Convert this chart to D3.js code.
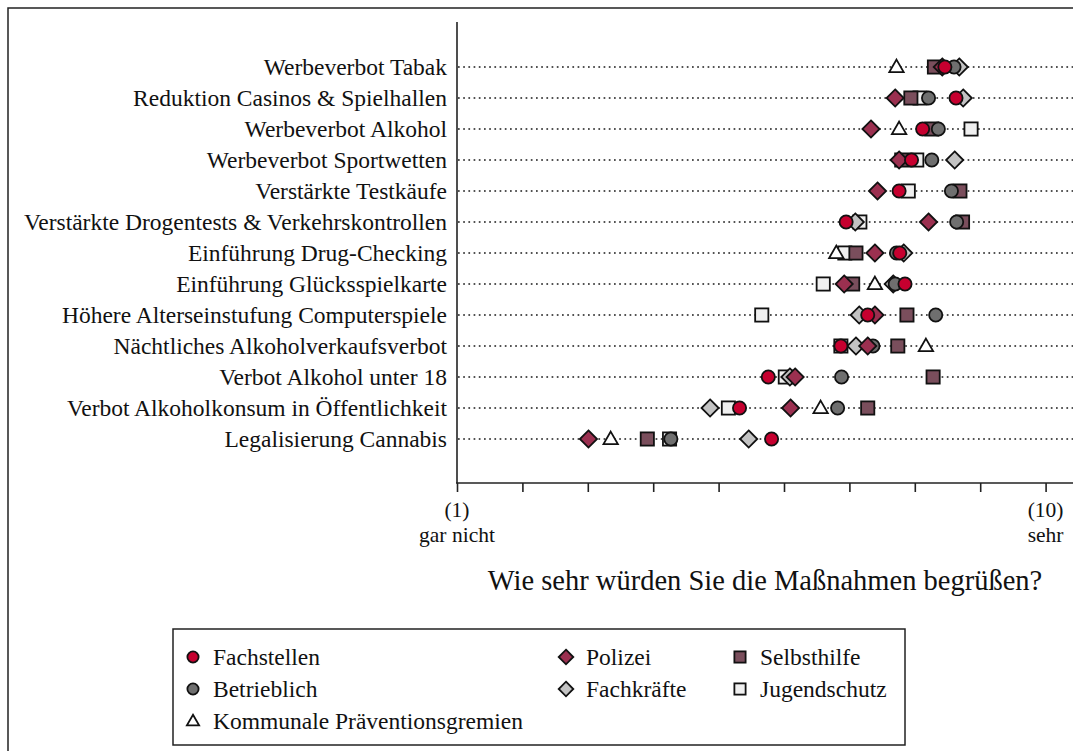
<!DOCTYPE html>
<html><head><meta charset="utf-8">
<script src="https://cdn.jsdelivr.net/npm/d3@7"></script>
<style>html,body{margin:0;padding:0;background:#fff;}svg{display:block;}</style>
</head><body>
<script>
const categories = [
  "Werbeverbot Tabak",
  "Reduktion Casinos & Spielhallen",
  "Werbeverbot Alkohol",
  "Werbeverbot Sportwetten",
  "Verstärkte Testkäufe",
  "Verstärkte Drogentests & Verkehrskontrollen",
  "Einführung Drug-Checking",
  "Einführung Glücksspielkarte",
  "Höhere Alterseinstufung Computerspiele",
  "Nächtliches Alkoholverkaufsverbot",
  "Verbot Alkohol unter 18",
  "Verbot Alkoholkonsum in Öffentlichkeit",
  "Legalisierung Cannabis"
];
const fachstellen  = [8.46, 8.63, 8.12, 7.95, 7.76, 6.95, 7.77, 7.85, 7.28, 6.87, 5.76, 5.32, 5.81];
const betrieblich  = [8.60, 8.21, 8.36, 8.26, 8.56, 8.64, 7.72, 7.70, 8.32, 7.36, 6.88, 6.82, 4.27];
const kommunale    = [7.72, null, 7.76, null, null, null, 6.80, 7.39, null, 8.17, null, 6.56, 3.35];
const polizei      = [8.42, 7.70, 7.33, 7.76, 7.43, 8.21, 7.39, 6.92, 7.39, 7.28, 6.17, 6.10, 3.01];
const fachkraefte  = [8.68, 8.74, null, 8.61, null, 7.09, 7.83, 7.67, 7.15, 7.10, 6.09, 4.87, 5.46];
const selbsthilfe  = [8.30, 7.94, 8.26, 7.80, 8.69, 8.73, 7.10, 7.05, 7.88, 7.74, 8.28, 7.28, 3.91];
const jugendschutz = [null, 8.08, 8.86, 8.03, 7.90, 7.16, 6.93, 6.60, 5.66, 6.87, 6.02, 5.15, 4.25];
const seriesNames = ["Fachstellen","Betrieblich","Kommunale Präventionsgremien","Polizei","Fachkräfte","Selbsthilfe","Jugendschutz"];
const tickValues = [1,2,3,4,5,6,7,8,9,10];
const axisLabels = {1:["(1)","gar nicht"], 10:["(10)","sehr"]};
const axisTitle = "Wie sehr würden Sie die Maßnahmen begrüßen?";

const W = 1073, H = 751;
const serif = "'Liberation Serif','Times New Roman',serif";
const svg = d3.select("body").append("svg").attr("width", W).attr("height", H);

// outer frame
svg.append("rect").attr("x", 8).attr("y", 8).attr("width", W + 20).attr("height", H + 20)
  .attr("fill", "none").attr("stroke", "#222").attr("stroke-width", 1.5);

const x = d3.scaleLinear().domain([1, 10]).range([457, 1045.6]);
const y = d3.scalePoint().domain(categories).range([67, 439]);

// dotted guide lines
svg.append("g").selectAll("line").data(categories).join("line")
  .attr("x1", 458).attr("x2", W).attr("y1", d => y(d)).attr("y2", d => y(d))
  .attr("stroke", "#1a1a1a").attr("stroke-width", 1.7).attr("stroke-dasharray", "1.7,3.5");

// category labels
svg.append("g").selectAll("text").data(categories).join("text")
  .attr("x", 447).attr("y", d => y(d)).attr("dy", "0.33em")
  .attr("text-anchor", "end").attr("font-family", serif).attr("font-size", 23.5)
  .attr("fill", "#111").text(d => d);

// y axis line
svg.append("line").attr("x1", 457).attr("x2", 457).attr("y1", 22).attr("y2", 483)
  .attr("stroke", "#222").attr("stroke-width", 1.6);

// x axis
const xAxis = svg.append("g").attr("transform", "translate(0,483)")
  .call(d3.axisBottom(x).tickValues(tickValues).tickSize(9).tickFormat(""));
xAxis.select(".domain").remove();
xAxis.selectAll(".tick line").attr("stroke", "#222").attr("stroke-width", 1.6);
svg.append("line").attr("x1", 456).attr("x2", W).attr("y1", 483).attr("y2", 483)
  .attr("stroke", "#222").attr("stroke-width", 1.6);
Object.keys(axisLabels).forEach(k => {
  svg.append("text").attr("x", x(+k)).attr("y", 517)
    .attr("text-anchor", "middle").attr("font-family", serif).attr("font-size", 21.5).attr("fill", "#111")
    .text(axisLabels[k][0]);
  svg.append("text").attr("x", x(+k)).attr("y", 542)
    .attr("text-anchor", "middle").attr("font-family", serif).attr("font-size", 21.5).attr("fill", "#111")
    .text(axisLabels[k][1]);
});
svg.append("text").attr("x", 765).attr("y", 590).attr("text-anchor", "middle")
  .attr("font-family", serif).attr("font-size", 28.5).attr("fill", "#111").text(axisTitle);

// marker shapes
const styles = {
  "Fachstellen": {shape: "circle", fill: "#c6002f"},
  "Betrieblich": {shape: "circle", fill: "#6f6f6f"},
  "Kommunale Präventionsgremien": {shape: "triangle", fill: "#ffffff"},
  "Polizei": {shape: "diamond", fill: "#9b3050"},
  "Fachkräfte": {shape: "diamond", fill: "#c3c3c3"},
  "Selbsthilfe": {shape: "square", fill: "#7a4e5c"},
  "Jugendschutz": {shape: "square", fill: "#f0f0f0"}
};
const seriesData = {
  "Fachstellen": fachstellen, "Betrieblich": betrieblich,
  "Kommunale Präventionsgremien": kommunale, "Polizei": polizei,
  "Fachkräfte": fachkraefte, "Selbsthilfe": selbsthilfe, "Jugendschutz": jugendschutz
};
function drawMarker(g, shape, cx, cy, fill, s) {
  s = s || 1;
  let el;
  if (shape === "circle") {
    el = g.append("circle").attr("cx", cx).attr("cy", cy).attr("r", 6.6 * s);
  } else if (shape === "square") {
    const h = 6.6 * s;
    el = g.append("rect").attr("x", cx - h).attr("y", cy - h).attr("width", 2 * h).attr("height", 2 * h);
  } else if (shape === "diamond") {
    const h = 8.6 * s;
    el = g.append("path").attr("d", `M${cx},${cy - h}L${cx + h},${cy}L${cx},${cy + h}L${cx - h},${cy}Z`);
  } else {
    const h = 7.4 * s;
    el = g.append("path").attr("d", `M${cx},${cy - h}L${cx + h * 0.97},${cy + h * 0.68}L${cx - h * 0.97},${cy + h * 0.68}Z`);
  }
  el.attr("fill", fill).attr("stroke", "#111").attr("stroke-width", 1.8).attr("stroke-linejoin", "miter");
}
// draw order bottom -> top
const drawOrder = ["Jugendschutz", "Selbsthilfe", "Fachkräfte", "Betrieblich", "Kommunale Präventionsgremien", "Polizei", "Fachstellen"];
const marks = svg.append("g");
drawOrder.forEach(name => {
  const st = styles[name];
  const g = marks.append("g");
  seriesData[name].forEach((v, i) => {
    if (v == null) return;
    drawMarker(g, st.shape, x(v), y(categories[i]), st.fill);
  });
});

// legend
svg.append("rect").attr("x", 173).attr("y", 629).attr("width", 732).attr("height", 116)
  .attr("fill", "#fff").attr("stroke", "#222").attr("stroke-width", 1.5);
const legendPos = {
  "Fachstellen": [193, 657], "Betrieblich": [193, 689], "Kommunale Präventionsgremien": [193, 721],
  "Polizei": [566, 657], "Fachkräfte": [566, 689], "Selbsthilfe": [740, 657], "Jugendschutz": [740, 689]
};
const lg = svg.append("g");
seriesNames.forEach(name => {
  const [lx, ly] = legendPos[name];
  drawMarker(lg, styles[name].shape, lx, ly, styles[name].fill, 0.85);
  lg.append("text").attr("x", lx + 20).attr("y", ly).attr("dy", "0.33em")
    .attr("font-family", serif).attr("font-size", 23.5).attr("fill", "#111").text(name);
});
</script>
</body></html>
